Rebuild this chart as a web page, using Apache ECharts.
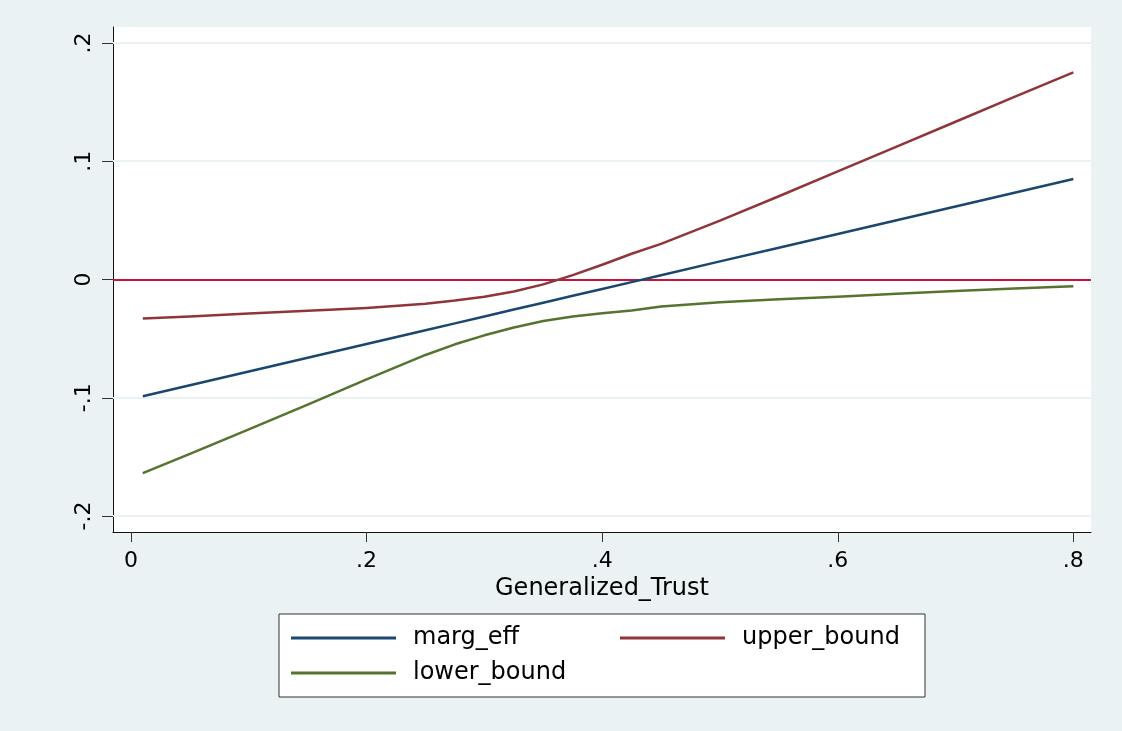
<!DOCTYPE html>
<html>
<head>
<meta charset="utf-8">
<script src="https://cdn.jsdelivr.net/npm/echarts@6/dist/echarts.min.js"></script>
<style>
html,body{margin:0;padding:0;background:#EAF2F3;}
#c{width:1122px;height:731px;}
</style>
</head>
<body>
<div id="c"></div>
<script>
// ---- data ----
const trust = [0.01, 0.05, 0.10, 0.15, 0.20, 0.25, 0.275, 0.30, 0.325, 0.35, 0.375, 0.40, 0.425, 0.45, 0.50, 0.55, 0.60, 0.65, 0.70, 0.75, 0.80];
const margEff = [-0.0987, -0.0894, -0.0778, -0.0661, -0.0545, -0.0429, -0.0371, -0.0313, -0.0254, -0.0196, -0.0138, -0.0080, -0.0022, 0.0036, 0.0153, 0.0269, 0.0385, 0.0501, 0.0618, 0.0734, 0.0850];
const upperBound = [-0.0330, -0.0313, -0.0288, -0.0265, -0.0240, -0.0205, -0.0178, -0.0145, -0.0102, -0.0041, 0.0037, 0.0125, 0.0218, 0.0301, 0.0498, 0.0704, 0.0915, 0.1123, 0.1334, 0.1544, 0.1751];
const lowerBound = [-0.1637, -0.1475, -0.1268, -0.1058, -0.0845, -0.0638, -0.0548, -0.0472, -0.0406, -0.0351, -0.0313, -0.0285, -0.0262, -0.0229, -0.0192, -0.0166, -0.0145, -0.0121, -0.0098, -0.0076, -0.0057];
const xTicks = [0, 0.2, 0.4, 0.6, 0.8];
const xTickLabels = ['0', '.2', '.4', '.6', '.8'];
const yTicks = [-0.2, -0.1, 0, 0.1, 0.2];
const yTickLabels = ['-.2', '-.1', '0', '.1', '.2'];
const refLineY = 0;
const seriesNames = ['marg_eff', 'upper_bound', 'lower_bound'];
const xTitle = 'Generalized_Trust';

// ---- chart ----
const font = 'DejaVu Sans, Liberation Sans, Arial, sans-serif';
const pair = arr => trust.map((t, i) => [t, arr[i]]);
const lookup = (ticks, labels) => v => {
  const i = ticks.findIndex(t => Math.abs(t - v) < 1e-9);
  return i >= 0 ? labels[i] : '';
};
const lineSeries = (name, arr, color) => ({
  name: name, type: 'line', data: pair(arr), showSymbol: false, symbol: 'none', z: 3,
  smooth: false,
  lineStyle: {color: color, width: 2.5, join: 'round'}, itemStyle: {color: color}
});

const chart = echarts.init(document.getElementById('c'), null, {renderer: 'canvas'});
const option = {
  backgroundColor: '#EAF2F3',
  animation: false,
  textStyle: {fontFamily: font, color: '#000'},
  grid: {left: 113, right: 31, top: 27, bottom: 199, show: true, backgroundColor: '#ffffff', borderWidth: 0, containLabel: false},
  xAxis: {
    type: 'value', min: -0.0153, max: 0.815,
    name: xTitle, nameLocation: 'middle', nameGap: 40,
    nameTextStyle: {fontSize: 24, color: '#000', fontFamily: font},
    axisLine: {show: true, onZero: false, lineStyle: {color: '#111', width: 1}},
    axisTick: {show: true, inside: false, length: 10, customValues: xTicks, lineStyle: {color: '#333', width: 1}},
    axisLabel: {customValues: xTicks, formatter: lookup(xTicks, xTickLabels), fontSize: 22, margin: 18, color: '#000', fontFamily: font},
    splitLine: {show: false}
  },
  yAxis: {
    type: 'value', min: -0.2135, max: 0.2135,
    axisLine: {show: true, onZero: false, lineStyle: {color: '#111', width: 1}},
    axisTick: {show: true, inside: false, length: 11, customValues: yTicks, lineStyle: {color: '#333', width: 1}},
    axisLabel: {customValues: yTicks, formatter: lookup(yTicks, yTickLabels), rotate: 90, fontSize: 22, margin: 18, color: '#000', fontFamily: font},
    splitLine: {show: false}
  },
  legend: {
    left: 279, top: 614, width: 625, orient: 'horizontal',
    padding: [6.5, 12, 6.5, 12],
    backgroundColor: '#ffffff', borderColor: '#333', borderWidth: 1,
    itemGap: 0, itemWidth: 105, itemHeight: 3, icon: 'rect',
    selectedMode: false,
    textStyle: {fontSize: 24, color: '#000', fontFamily: font, lineHeight: 35, width: 207, padding: [0, 0, 0, 12]},
    data: [
      {name: seriesNames[0]},
      {name: seriesNames[1], textStyle: {width: 171}},
      {name: seriesNames[2]}
    ]
  },
  series: [
    {
      name: 'gridlines', type: 'line', data: [], z: 1, silent: true,
      markLine: {
        silent: true, z: 1, symbol: 'none', label: {show: false}, animation: false,
        lineStyle: {color: '#EAF2F3', width: 2, type: 'solid'},
        data: yTicks.filter(t => t !== refLineY).map(t => ({yAxis: t}))
      }
    },
    {
      name: 'refline', type: 'line', data: [], z: 2, silent: true,
      markLine: {
        silent: true, z: 2, symbol: 'none', label: {show: false}, animation: false,
        lineStyle: {color: '#C8143C', width: 2, type: 'solid'},
        data: [{yAxis: refLineY}]
      }
    },
    lineSeries(seriesNames[0], margEff, '#1A476F'),
    lineSeries(seriesNames[1], upperBound, '#90353B'),
    lineSeries(seriesNames[2], lowerBound, '#55752F')
  ]
};
chart.setOption(option);
</script>
</body>
</html>
